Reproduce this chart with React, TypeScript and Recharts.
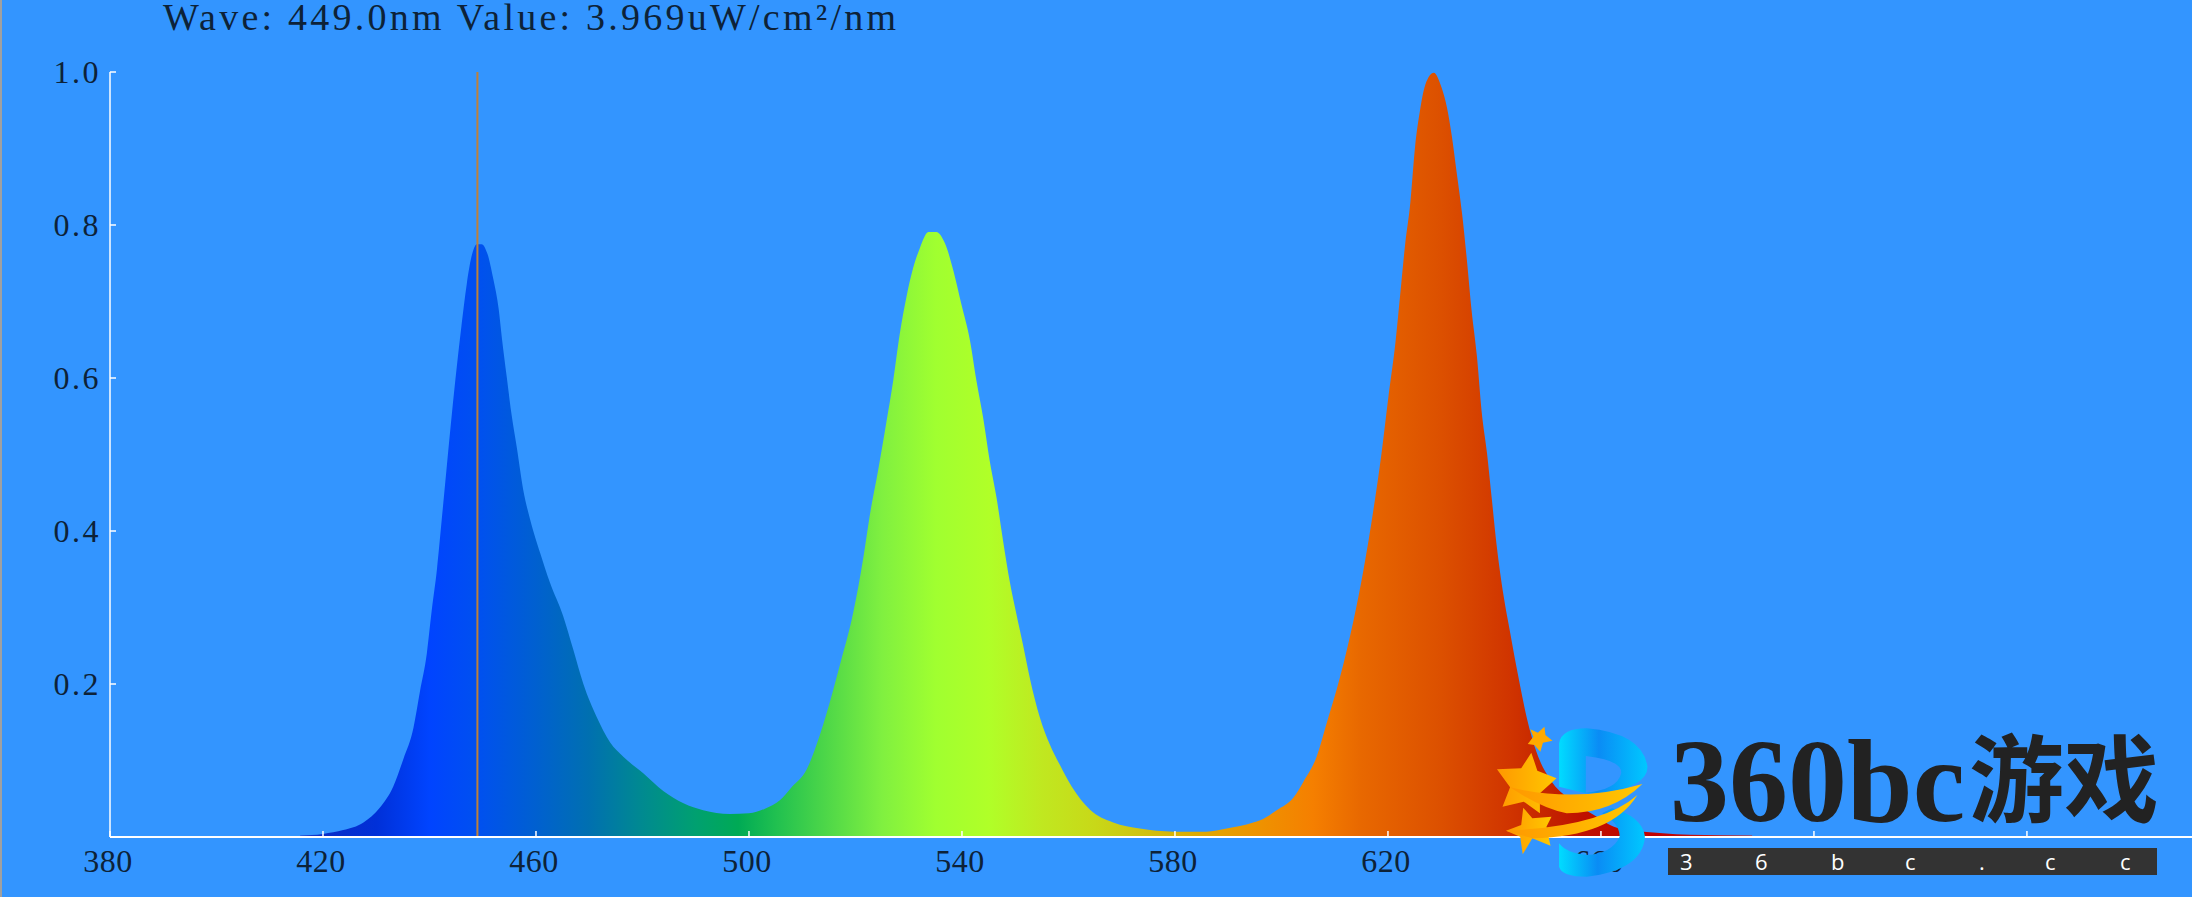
import { Area, AreaChart, ReferenceLine, XAxis, YAxis } from "recharts";

const blueNm = [415.7, 420, 423.8, 427.6, 430.7, 433.2, 435.1, 437, 438.2, 439.5, 440.4, 441.4, 442.3, 443.2, 444.2, 445.1, 446, 447, 447.9, 448.9, 449.8, 450.9, 452, 453, 453.6, 454.5, 455.4, 456.4, 457.6, 458.9, 460.8, 462.6, 465.1, 467, 468.9, 471.4, 473.9, 476.4, 480.2, 483.9, 487.7, 491.4, 496.4];
const blueValues = [0.002, 0.004, 0.009, 0.019, 0.0385, 0.066, 0.102, 0.143, 0.19, 0.24, 0.295, 0.35, 0.415, 0.481, 0.553, 0.613, 0.668, 0.723, 0.759, 0.775, 0.775, 0.762, 0.729, 0.69, 0.652, 0.602, 0.553, 0.509, 0.454, 0.415, 0.371, 0.333, 0.289, 0.245, 0.2, 0.157, 0.124, 0.105, 0.083, 0.06, 0.044, 0.035, 0.03];

const greenNm = [500, 503, 505.8, 508, 510.8, 513.9, 517, 519.6, 521.5, 522.7, 524.3, 525.8, 527.1, 528.3, 529.6, 530.8, 532.1, 533.7, 535.2, 536.8, 538.4, 539.9, 541.5, 542.7, 544, 545.2, 546.5, 547.7, 549, 550.2, 551.5, 552.8, 554.6, 556.5, 558.4, 560.6, 564, 568.4, 573.4, 579.7, 585.9, 589.7, 594.7];
const greenValues = [0.031, 0.037, 0.048, 0.065, 0.088, 0.146, 0.223, 0.294, 0.366, 0.421, 0.481, 0.542, 0.597, 0.657, 0.707, 0.743, 0.77, 0.791, 0.791, 0.776, 0.74, 0.696, 0.649, 0.597, 0.547, 0.492, 0.443, 0.388, 0.333, 0.292, 0.25, 0.206, 0.157, 0.121, 0.094, 0.066, 0.036, 0.019, 0.011, 0.007, 0.007, 0.011, 0.019];

const redNm = [596, 599.1, 602.3, 604.1, 606.6, 608.5, 611, 613.5, 615.4, 617.3, 618.8, 620.1, 621.4, 622.3, 623.2, 624.2, 625.1, 626, 627, 628.6, 630.1, 631.1, 632, 632.9, 633.9, 634.8, 635.7, 636.7, 637.6, 638.6, 639.5, 640.4, 641.7, 642.9, 644.5, 646.1, 648, 650.5, 654.2, 658.6, 663, 668, 671.6, 676.7, 688.4];
const redValues = [0.022, 0.035, 0.052, 0.072, 0.105, 0.149, 0.209, 0.282, 0.349, 0.429, 0.502, 0.576, 0.646, 0.709, 0.773, 0.829, 0.903, 0.949, 0.983, 0.999, 0.979, 0.953, 0.916, 0.869, 0.816, 0.756, 0.689, 0.629, 0.556, 0.502, 0.442, 0.382, 0.316, 0.269, 0.209, 0.155, 0.109, 0.075, 0.049, 0.029, 0.012, 0.007, 0.005, 0.003, 0.002];

const xTicks = [380, 420, 460, 500, 540, 580, 620, 660, 700, 740];
const yTicks = [0.2, 0.4, 0.6, 0.8, 1.0];

const stopNm = [415, 420, 430, 440, 449, 460, 470, 480, 490, 498, 505, 515, 525, 535, 545, 555, 565, 575, 585, 595, 606, 615, 630, 643, 650, 656, 670, 690];
const stopColors = ["#2244cc", "#0a2ec8", "#0030d8", "#0044ff", "#0050f0", "#0060d0", "#0070b0", "#008a90", "#00a070", "#00aa55", "#20c050", "#50d848", "#80f040", "#a0ff30", "#b0ff28", "#c0e820", "#c8d818", "#d0c010", "#e0a800", "#ee9400", "#f57f00", "#e86800", "#dc5000", "#d03400", "#c42400", "#bf1200", "#c00000", "#c82424"];

const spectrum = [
  ...blueNm.map((nm, i) => ({ nm, value: blueValues[i] })),
  ...greenNm.map((nm, i) => ({ nm, value: greenValues[i] })),
  ...redNm.map((nm, i) => ({ nm, value: redValues[i] })),
];

const WIDTH = 2192;
const HEIGHT = 897;
const PLOT_LEFT = 110;
const NM_MIN = 380;
const NM_MAX = 771;

const labelStyle = { fontFamily: "Liberation Serif", fontSize: 32, fill: "#0d2238" };

function XTick({ x, y, payload }: any) {
  return (
    <g>
      <line x1={x} x2={x} y1={y} y2={y - 6} stroke="#fff" strokeWidth={1.5} />
      <text x={x - 2} y={y + 35} textAnchor="middle" letterSpacing={0.5} {...labelStyle}>
        {payload.value}
      </text>
    </g>
  );
}

function YTick({ x, y, payload }: any) {
  return (
    <g>
      <line x1={x} x2={x + 6} y1={y} y2={y} stroke="#fff" strokeWidth={1.5} />
      <text x={x - 9} y={y + 11} textAnchor="end" letterSpacing={2.5} {...labelStyle}>
        {payload.value.toFixed(1)}
      </text>
    </g>
  );
}

function Watermark() {
  return (
    <svg width={WIDTH} height={HEIGHT} style={{ position: "absolute", left: 0, top: 0 }}>
      <defs>
        <linearGradient id="logoBlue" x1="0" x2="1" y1="0" y2="0">
          <stop offset="0" stopColor="#00dcff" />
          <stop offset="0.45" stopColor="#0a8cf5" />
          <stop offset="1" stopColor="#00c8ff" />
        </linearGradient>
        <linearGradient id="logoGold" x1="0" x2="1" y1="0" y2="0">
          <stop offset="0" stopColor="#ff9800" />
          <stop offset="1" stopColor="#ffc800" />
        </linearGradient>
      </defs>
      <g transform="translate(1400 680) scale(0.505 0.3333)">
        <path
          fill="url(#logoBlue)"
          fillRule="evenodd"
          d="M315 190Q320 145 370 145Q480 160 490 260Q490 320 400 340L368 340L315 320ZM368 228L368 338Q430 330 438 280Q440 240 368 228Z"
        />
        <path
          fill="url(#logoBlue)"
          d="M315 470L315 560Q320 590 370 590Q480 570 485 470Q480 410 420 385L400 400Q435 430 435 470Q420 520 370 525Q330 520 315 490Z"
        />
        <polygon fill="#ffaa00" points="286,140 288,165 302,182 283,188 278,215 266,195 253,192 264,170 258,148 273,158" />
        <polygon fill="url(#logoGold)" points="260,218 272,272 310,295 277,340 277,400 245,365 203,380 218,322 192,268 240,265" />
        <path fill="url(#logoGold)" d="M218 322Q350 370 480 312Q420 400 330 400Q280 385 218 322Z" />
        <polygon fill="url(#logoGold)" points="244,383 262,415 300,410 290,440 298,497 262,475 243,523 238,470 210,452 240,435" />
        <path fill="url(#logoGold)" d="M210 452Q400 440 470 345Q420 470 262 475Z" />
      </g>
      <text x={1670} y={821} fontFamily="Liberation Serif" fontWeight="bold" fontSize={118} fill="#222">
        360bc
      </text>
      <text x={1969} y={815} fontFamily="Noto Sans CJK SC" fontWeight="bold" fontSize={95} fill="#222">
        游戏
      </text>
      <rect x={1668} y={848} width={489} height={27} fill="#333" />
      <text x="1680 1755 1831 1905 1979 2045 2120" y={870} fontFamily="Open Sans" fontSize={22} fill="#fff">
        36bc.cc
      </text>
    </svg>
  );
}

export default function App() {
  return (
    <div style={{ position: "absolute", left: 0, top: 0, width: WIDTH, height: HEIGHT, background: "#3395ff", overflow: "hidden" }}>
      <AreaChart width={WIDTH} height={HEIGHT} data={spectrum} margin={{ top: 72, right: 0, bottom: 0, left: 0 }}>
        <defs>
          <linearGradient id="spectrumFill" gradientUnits="userSpaceOnUse" x1={PLOT_LEFT} x2={WIDTH} y1={0} y2={0}>
            {stopNm.map((nm, i) => (
              <stop key={nm} offset={(nm - NM_MIN) / (NM_MAX - NM_MIN)} stopColor={stopColors[i]} />
            ))}
          </linearGradient>
        </defs>
        <XAxis
          dataKey="nm"
          type="number"
          domain={[NM_MIN, NM_MAX]}
          ticks={xTicks}
          interval={0}
          height={60}
          tickSize={0}
          tickMargin={0}
          tick={<XTick />}
          tickLine={false}
          axisLine={{ stroke: "#fff", strokeWidth: 2 }}
          allowDataOverflow
        />
        <YAxis
          type="number"
          domain={[0, 1]}
          ticks={yTicks}
          interval={0}
          width={PLOT_LEFT}
          tickSize={0}
          tickMargin={0}
          tick={<YTick />}
          tickLine={false}
          axisLine={{ stroke: "#fff", strokeWidth: 1.5 }}
        />
        <Area
          dataKey="value"
          type="monotone"
          stroke="none"
          fill="url(#spectrumFill)"
          fillOpacity={1}
          dot={false}
          activeDot={false}
          isAnimationActive={false}
        />
        <ReferenceLine x={449} stroke="#c08038" strokeWidth={2} />
        <text x={163} y={30} fontFamily="Liberation Serif" fontSize={38} fill="#0d2238" textLength={733} lengthAdjust="spacing">
          Wave: 449.0nm Value: 3.969uW/cm²/nm
        </text>
      </AreaChart>
      <div style={{ position: "absolute", left: 0, top: 0, width: 2, height: HEIGHT, background: "#a0a0a0" }} />
      <Watermark />
    </div>
  );
}
